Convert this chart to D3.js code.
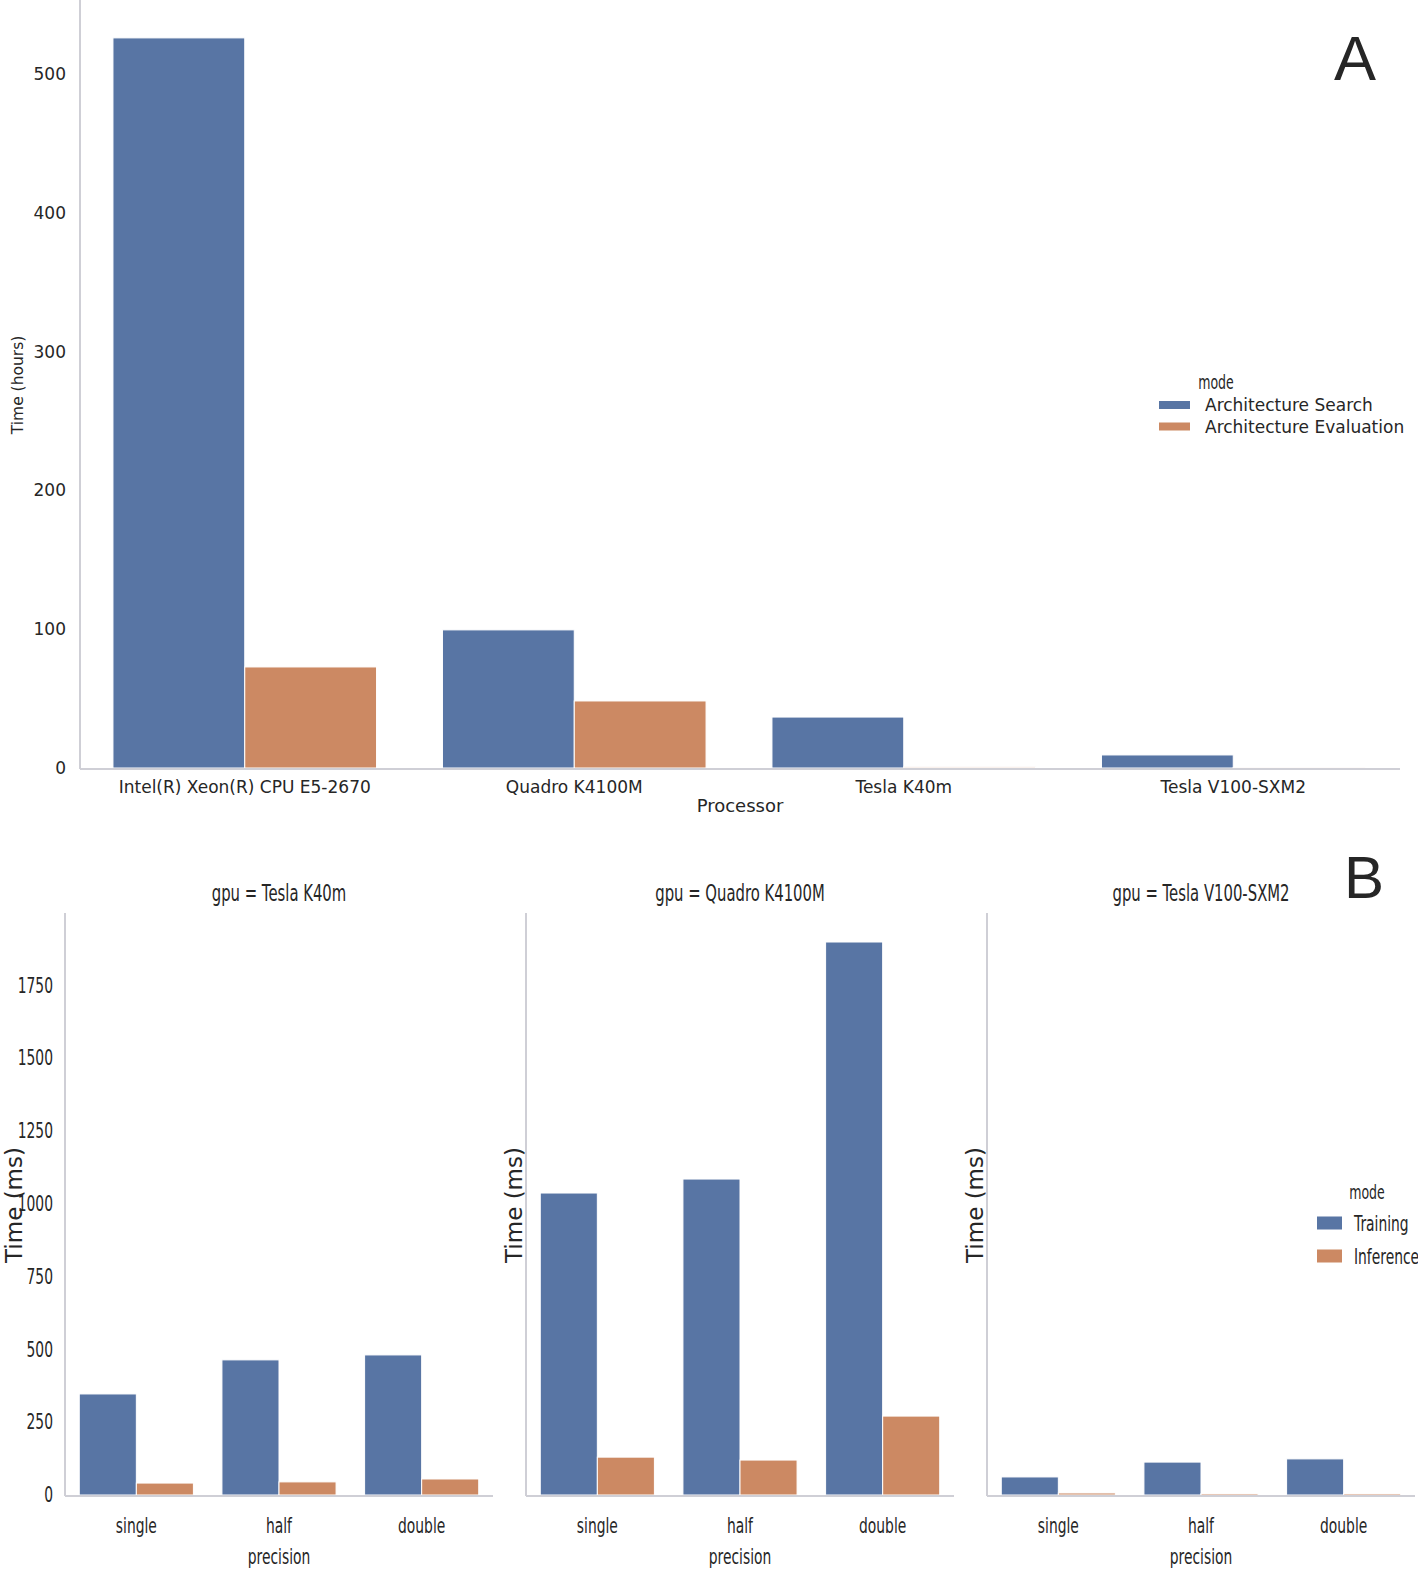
<!DOCTYPE html>
<html><head><meta charset="utf-8">
<script src="https://cdn.jsdelivr.net/npm/d3@7"></script>
<style>
html,body{margin:0;padding:0;background:#fff;}
svg{display:block;}
text{font-family:"DejaVu Sans",sans-serif;fill:#262626;}
</style></head>
<body>
<svg id="chart" width="1418" height="1569"></svg>
<script>
// ---- Panel A data ----
const processors = ["Intel(R) Xeon(R) CPU E5-2670", "Quadro K4100M", "Tesla K40m", "Tesla V100-SXM2"];
const modesA = ["Architecture Search", "Architecture Evaluation"];
const searchHours = [526, 99.5, 36.7, 9.4];
const evalHours = [72.8, 48.3, 0.8, 0.3];
const ticksA = [0, 100, 200, 300, 400, 500];

// ---- Panel B data ----
const gpus = ["Tesla K40m", "Quadro K4100M", "Tesla V100-SXM2"];
const precisions = ["single", "half", "double"];
const modesB = ["Training", "Inference"];
const trainingMs = [
  [347, 464, 481],
  [1037, 1085, 1899],
  [62, 113, 124]
];
const inferenceMs = [
  [41, 45, 55],
  [130, 120, 271],
  [7, 5, 5]
];
const ticksB = [0, 250, 500, 750, 1000, 1250, 1500, 1750];

const colors = ["#5875a4", "#cc8963"];
const spineColor = "#cfcfd6";
const SX = 0.66; // condensed text factor

const svg = d3.select("#chart");

function condText(parent, x, y, str, size, anchor) {
  const g = parent.append("g").attr("transform", `translate(${x},${y})`);
  g.append("text").attr("transform", `scale(${SX},1)`)
    .attr("text-anchor", anchor || "middle")
    .style("font-size", size + "px").text(str);
  return g;
}

// ================= Panel A =================
(function(){
  const left = 80, right = 1398, top = 0, bottom = 768;
  const y = d3.scaleLinear().domain([0, 553.3]).range([bottom, top]);
  const x0 = d3.scaleBand().domain(processors).range([left, right]).paddingInner(0.2).paddingOuter(0.1);
  const x1 = d3.scaleBand().domain(modesA).range([0, x0.bandwidth()]);
  const g = svg.append("g");
  const rows = processors.map((p, i) => ({p, vals: [searchHours[i], evalHours[i]]}));
  const grp = g.selectAll("g.grp").data(rows).join("g").attr("class","grp")
    .attr("transform", d => `translate(${x0(d.p)},0)`);
  grp.selectAll("rect").data(d => d.vals.map((v, k) => ({v, k})))
    .join("rect")
    .attr("x", d => x1(modesA[d.k]))
    .attr("width", x1.bandwidth())
    .attr("y", d => y(d.v))
    .attr("height", d => Math.max(1, y(0) - y(d.v)))
    .attr("fill", d => colors[d.k])
    .attr("stroke", "#fff").attr("stroke-width", 1);

  // spines
  g.append("line").attr("x1", left).attr("x2", left).attr("y1", top).attr("y2", bottom+1)
    .attr("stroke", spineColor).attr("stroke-width", 2);
  g.append("line").attr("x1", left).attr("x2", right+2).attr("y1", bottom+1).attr("y2", bottom+1)
    .attr("stroke", spineColor).attr("stroke-width", 2);

  // y axis
  const ya = g.append("g").attr("transform", `translate(${left},0)`)
    .call(d3.axisLeft(y).tickValues(ticksA).tickSize(0).tickPadding(14));
  ya.select(".domain").remove();
  ya.selectAll("text").style("font-size", "17px").style("font-family", "DejaVu Sans").attr("fill", "#262626");

  // x axis
  const xa = g.append("g").attr("transform", `translate(0,${bottom})`)
    .call(d3.axisBottom(x0).tickSize(0).tickPadding(13));
  xa.select(".domain").remove();
  xa.selectAll("text").style("font-size", "17px").style("font-family", "DejaVu Sans").attr("fill", "#262626");

  g.append("text").attr("x", 740).attr("y", 812).attr("text-anchor","middle")
    .style("font-size","18px").text("Processor");
  g.append("text").attr("transform", "translate(23,385) rotate(-90)").attr("text-anchor","middle")
    .style("font-size","15.5px").text("Time (hours)");

  // legend
  condText(g, 1216, 389, "mode", 19);
  modesA.forEach((m, k) => {
    const yy = 405 + k*21.5;
    g.append("rect").attr("x", 1159).attr("y", yy-4).attr("width", 31).attr("height", 8).attr("fill", colors[k]);
    g.append("text").attr("x", 1205).attr("y", yy+6).style("font-size","17px").text(m);
  });

  g.append("text").attr("x", 1355).attr("y", 80).attr("text-anchor","middle")
    .style("font-family","Liberation Sans, Arial, sans-serif").style("font-size","63px").attr("fill","#000").text("A");
})();

// ================= Panel B =================
(function(){
  const panels = [
    {left: 65, right: 493, labelX: 22},
    {left: 526, right: 954, labelX: 522},
    {left: 987, right: 1415, labelX: 983}
  ];
  const top = 913, bottom = 1495;
  const y = d3.scaleLinear().domain([0, 1998.6]).range([bottom, top]);

  gpus.forEach((gpu, i) => {
    const P = panels[i];
    const g = svg.append("g");
    const x0 = d3.scaleBand().domain(precisions).range([P.left, P.right]).paddingInner(0.2).paddingOuter(0.1);
    const x1 = d3.scaleBand().domain(modesB).range([0, x0.bandwidth()]);
    const rows = precisions.map((p, j) => ({p, vals: [trainingMs[i][j], inferenceMs[i][j]]}));
    const grp = g.selectAll("g.grp").data(rows).join("g").attr("class","grp")
      .attr("transform", d => `translate(${x0(d.p)},0)`);
    grp.selectAll("rect").data(d => d.vals.map((v, k) => ({v, k})))
      .join("rect")
      .attr("x", d => x1(modesB[d.k]))
      .attr("width", x1.bandwidth())
      .attr("y", d => y(d.v))
      .attr("height", d => Math.max(1, y(0) - y(d.v)))
      .attr("fill", d => colors[d.k])
      .attr("stroke", "#fff").attr("stroke-width", 1);

    g.append("line").attr("x1", P.left).attr("x2", P.left).attr("y1", top).attr("y2", bottom+1)
      .attr("stroke", spineColor).attr("stroke-width", 2);
    g.append("line").attr("x1", P.left).attr("x2", P.right).attr("y1", bottom+1).attr("y2", bottom+1)
      .attr("stroke", spineColor).attr("stroke-width", 2);

    if (i === 0) {
      const ya = g.append("g").attr("transform", `translate(${P.left},0)`)
        .call(d3.axisLeft(y).tickValues(ticksB).tickFormat(d3.format("d")).tickSize(0).tickPadding(12));
      ya.select(".domain").remove();
      ya.selectAll("text").style("font-size", "21px").style("font-family", "DejaVu Sans")
        .attr("fill", "#262626").attr("x", -12 / SX).attr("transform", `scale(${SX},1)`);
    }

    const xa = g.append("g").attr("transform", `translate(0,${bottom})`)
      .call(d3.axisBottom(x0).tickSize(0).tickFormat(() => ""));
    xa.select(".domain").remove();
    precisions.forEach(p => {
      condText(g, x0(p) + x0.bandwidth()/2, 1533, p, 21);
    });
    condText(g, (P.left + P.right)/2, 1564, "precision", 21);

    condText(g, (P.left + P.right)/2, 901, "gpu = " + gpu, 22.5);

    g.append("text").attr("transform", `translate(${P.labelX},1205) rotate(-90)`).attr("text-anchor","middle")
      .style("font-size","23px").text("Time (ms)");
  });

  // legend
  const g = svg.append("g");
  condText(g, 1367, 1199, "mode", 19);
  modesB.forEach((m, k) => {
    const yy = 1223 + k*33;
    g.append("rect").attr("x", 1317).attr("y", yy-6.5).attr("width", 25).attr("height", 13).attr("fill", colors[k]);
    condText(g, 1354, yy+8, m, 21, "start");
  });

  g.append("text").attr("x", 1364).attr("y", 898).attr("text-anchor","middle")
    .style("font-family","Liberation Sans, Arial, sans-serif").style("font-size","60px").attr("fill","#000").text("B");
})();
</script>
</body></html>
